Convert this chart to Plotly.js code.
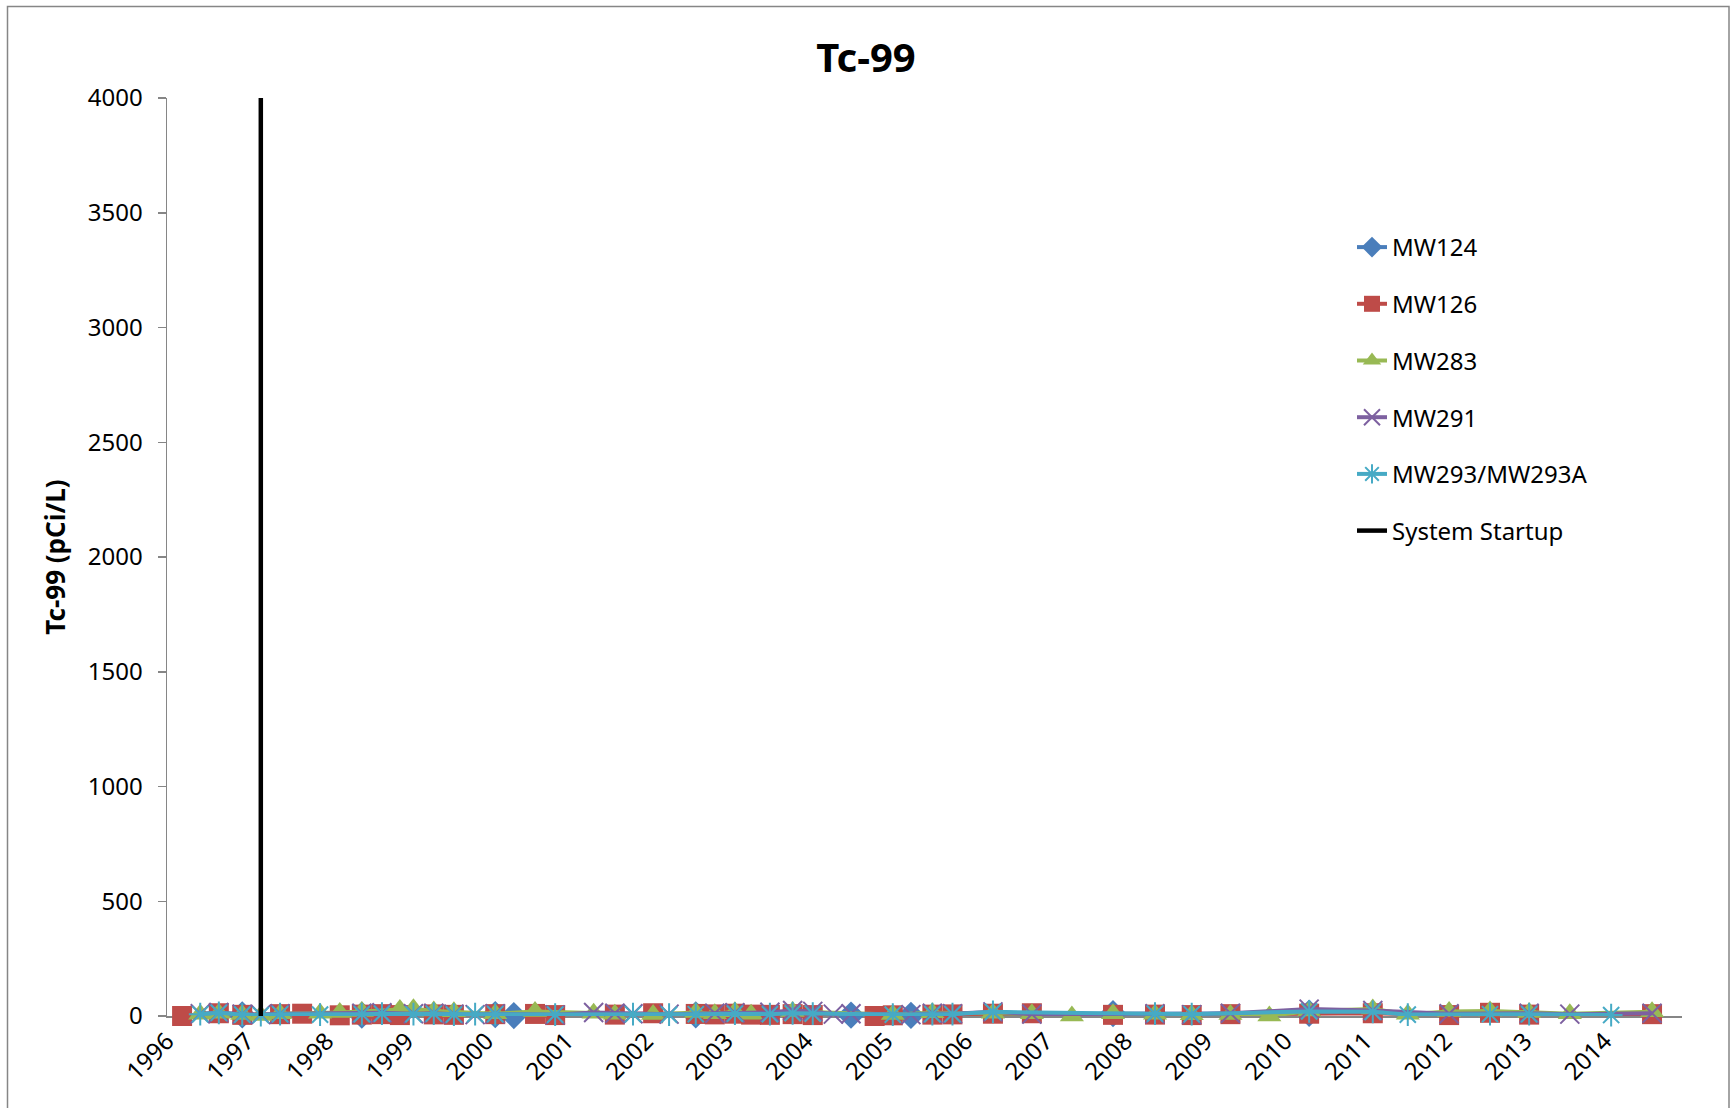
<!DOCTYPE html>
<html>
<head>
<meta charset="utf-8">
<script src="https://cdn.plot.ly/plotly-3.0.1.min.js"></script>
<style>
html,body{margin:0;padding:0;background:#fff;}
#chart{width:1732px;height:1108px;}
</style>
</head>
<body>
<div id="chart"></div>
<script>
// ---- Data ----
const chartTitle = "Tc-99";
const yTitle = "Tc-99 (pCi/L)";

const mw124Dates = ["1996-12-10","1998-06-10","2000-02-10","2000-05-05","2002-08-15","2004-07-25","2005-04-25","2007-11-05","2010-04-20"];
const mw124Values = [5, 4, 6, 2, 5, 4, 3, 10, 12];

const mw126Dates = ["1996-03-10","1996-08-25","1996-12-10","1997-06-01","1997-09-10","1998-03-01","1998-06-10","1998-09-10","1998-12-01","1999-05-05","1999-08-05","2000-02-10","2000-08-10","2000-11-10","2001-08-10","2002-02-01","2002-08-15","2002-11-10","2003-02-10","2003-04-25","2003-07-20","2003-11-01","2004-02-01","2004-11-10","2005-02-01","2005-08-01","2005-11-01","2006-05-05","2006-10-30","2007-11-05","2008-05-15","2008-10-30","2009-04-25","2010-04-20","2011-02-05","2012-01-20","2012-07-25","2013-01-20","2014-08-05"];
const mw126Values = [0, 12, 5, 8, 10, 3, 6, 8, 4, 7, 5, 8, 9, 4, 6, 12, 9, 7, 10, 6, 5, 8, 4, 0, 3, 6, 7, 10, 12, 5, 6, 4, 8, 10, 12, 4, 14, 6, 8];

const mw283Dates = ["1996-06-01","1996-08-25","1996-12-10","1997-03-05","1997-06-01","1997-12-01","1998-03-01","1998-06-10","1998-12-01","1999-02-01","1999-05-05","1999-08-05","2000-02-10","2000-08-10","2001-05-05","2001-08-10","2002-02-01","2002-08-15","2002-11-10","2003-02-10","2003-04-25","2003-11-01","2005-02-01","2005-08-01","2006-05-05","2006-10-30","2007-05-01","2007-11-05","2008-05-15","2008-10-30","2009-04-25","2009-10-20","2010-04-20","2011-02-05","2011-07-15","2012-01-20","2012-07-25","2013-01-20","2013-07-25","2014-08-05"];
const mw283Values = [8, 12, 6, 2, 10, 12, 15, 20, 28, 32, 22, 18, 10, 20, 12, 8, 6, 15, 10, 18, 8, 20, 6, 14, 12, 10, 0, 10, 8, 5, 6, 0, 22, 30, 8, 20, 22, 15, 10, 18];

const mw291Dates = ["1996-06-01","1996-08-25","1996-12-10","1997-03-05","1997-06-01","1998-06-10","1998-09-10","1999-02-01","1999-05-05","1999-08-05","1999-11-10","2000-02-10","2000-11-10","2001-05-05","2001-08-10","2001-11-01","2002-04-15","2002-11-10","2003-02-10","2003-07-20","2003-11-01","2004-02-01","2004-05-05","2004-07-25","2005-04-25","2005-08-01","2005-11-01","2006-05-05","2006-10-30","2008-05-15","2008-10-30","2009-04-25","2010-04-20","2011-02-05","2012-01-20","2013-01-20","2013-07-25","2014-08-05"];
const mw291Values = [10, 15, 8, 6, 10, 12, 14, 10, 12, 8, 6, 10, 5, 15, 12, 10, 8, 12, 14, 16, 24, 20, 8, 10, 6, 12, 10, 18, 8, 10, 6, 12, 30, 24, 10, 12, 8, 12];

const mw293Dates = ["1996-06-01","1996-08-25","1996-12-10","1997-03-05","1997-06-01","1997-12-01","1998-06-10","1998-09-10","1999-02-01","1999-05-05","1999-08-05","1999-11-10","2000-02-10","2000-11-10","2001-11-01","2002-04-15","2002-08-15","2003-02-10","2003-07-20","2003-11-01","2004-02-01","2005-02-01","2005-08-01","2005-11-01","2006-05-05","2008-05-15","2008-10-30","2010-04-20","2011-02-05","2011-07-15","2012-07-25","2013-01-20","2014-01-30"];
const mw293Values = [8, 14, 6, 4, 8, 6, 8, 10, 8, 10, 6, 8, 8, 6, 8, 6, 8, 10, 8, 12, 10, 6, 8, 8, 18, 10, 8, 20, 18, 6, 8, 8, 4];

const startupDates = ["1997-03-05","1997-03-05"];
const startupValues = [0, 4000];

const seriesNames = ["MW124","MW126","MW283","MW291","MW293/MW293A","System Startup"];
const yTickVals = [0,500,1000,1500,2000,2500,3000,3500,4000];

// ---- Styles ----
const FONT = "Noto Sans, Open Sans, Liberation Sans, sans-serif";
const colors = ["#4A7EBB","#BE4B48","#98B954","#7D60A0","#46AAC5","#000000"];

function series(name, x, y, color, symbol, msize, open, group){
  const m = {symbol: symbol, size: msize, color: color};
  if (open) { m.line = {color: color, width: 2}; }
  else { m.line = {width: 0}; }
  return {
    type: "scatter", mode: "lines+markers", name: name, x: x, y: y,
    line: {color: color, width: 4},
    marker: m, cliponaxis: false, legendgroup: group, hoverinfo: "x+y+name"
  };
}

const traces = [
  series(seriesNames[0], mw124Dates, mw124Values, colors[0], "diamond", 21, false, "g1"),
  series(seriesNames[1], mw126Dates, mw126Values, colors[1], "square", 20, false, "g2"),
  series(seriesNames[2], mw283Dates, mw283Values, colors[2], "triangle-up", 21, false, "g3"),
  series(seriesNames[3], mw291Dates, mw291Values, colors[3], "x-thin-open", 19, true, "g4"),
  series(seriesNames[4], mw293Dates, mw293Values, colors[4], "asterisk-open", 19, true, "g5"),
  {type:"scatter", mode:"lines", name: seriesNames[5], x: startupDates, y: startupValues,
   line:{color: colors[5], width: 4.5}, legendgroup:"g6", cliponaxis:false}
];

const L = 167, R = 50, T = 98, B = 92;
const W = 1732, H = 1108;
const pw = W - L - R, ph = H - T - B;

const layout = {
  width: W, height: H,
  margin: {l: L, r: R, t: T, b: B, pad: 0},
  paper_bgcolor: "#ffffff", plot_bgcolor: "#ffffff",
  font: {family: FONT, color: "#000", size: 24},
  showlegend: true,
  title: {text: "<b>" + chartTitle + "</b>", font: {family: FONT, size: 40, color: "#000"},
          x: 0.5, xref: "container", y: 1 - 58/H, yref: "container", yanchor: "middle"},
  xaxis: {
    type: "date", range: ["1996-01-01","2014-12-20"],
    tick0: "1996-01-01", dtick: "M12", tickformat: "%Y", tickangle: -45,
    showgrid: false, zeroline: false, showline: true, linecolor: "#868686", linewidth: 1.5,
    ticks: "", tickfont: {family: FONT, size: 24, color: "#000"}, layer: "below traces",
    fixedrange: true
  },
  yaxis: {
    range: [0, 4000], tickvals: yTickVals, ticktext: yTickVals.map(String),
    showgrid: false, zeroline: false, showline: true, linecolor: "#868686", linewidth: 1.5,
    ticks: "outside", ticklen: 8, tickcolor: "#868686", tickwidth: 1.5,
    ticklabelstandoff: 10,
    tickfont: {family: FONT, size: 24, color: "#000"}, layer: "below traces",
    title: {text: "<b>" + yTitle + "</b>", font: {family: FONT, size: 26, color: "#000"}, standoff: 14},
    fixedrange: true
  },
  legend: {
    x: (1352 - L)/pw, xanchor: "left", y: (H - B - 225)/ph, yanchor: "top",
    font: {family: FONT, size: 24, color: "#000"},
    tracegroupgap: 22.5, bgcolor: "rgba(0,0,0,0)", borderwidth: 0, itemwidth: 30
  },
  shapes: [{
    type: "rect", xref: "paper", yref: "paper",
    x0: (7.5 - L)/pw, x1: (1729 - L)/pw,
    y0: (H - B - 1112)/ph, y1: (H - B - 6.5)/ph,
    line: {color: "#868686", width: 1.5}, fillcolor: "rgba(0,0,0,0)", layer: "below"
  }]
};

Plotly.newPlot("chart", traces, layout, {displayModeBar: false, staticPlot: true});
</script>
</body>
</html>
